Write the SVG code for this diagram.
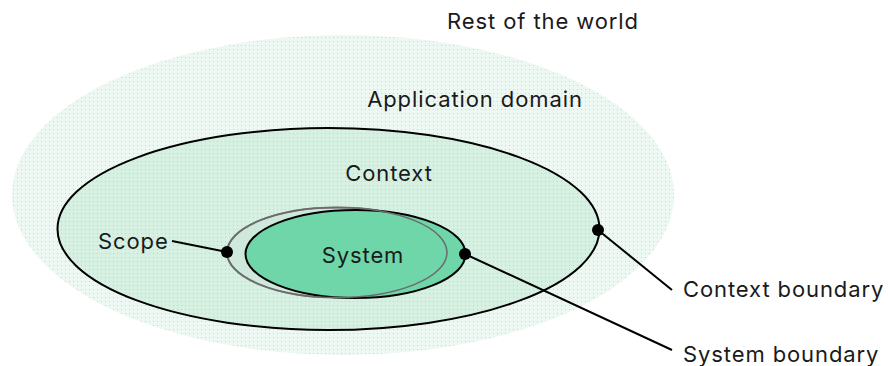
<svg xmlns="http://www.w3.org/2000/svg" width="888" height="366" viewBox="0 0 888 366">
<defs>
<pattern id="dotsOuter" width="4" height="4" patternUnits="userSpaceOnUse">
<rect width="4" height="4" fill="#eef8f2"/>
<rect x="1" y="1" width="1" height="1" fill="#c5d8cc"/>
</pattern>
<pattern id="dotsInner" width="4" height="4" patternUnits="userSpaceOnUse">
<rect width="4" height="4" fill="#d6f1e2"/>
<rect x="1" y="1" width="1" height="1" fill="#b9d6c5"/>
</pattern>
<style>
.lbl{font-family:Inter,"Liberation Sans",sans-serif;font-size:22px;letter-spacing:0.9px;fill:#1a1a1a}
.ln{stroke:#000;stroke-width:2;fill:none}
.dot{fill:#000}
</style>
</defs>
<g id="rest-of-world">
<text class="lbl" x="543" y="29" text-anchor="middle">Rest of the world</text>
</g>
<g id="application-domain">
<ellipse cx="343" cy="195" rx="331" ry="160" fill="url(#dotsOuter)"/>
<text class="lbl" x="475" y="107" text-anchor="middle">Application domain</text>
</g>
<g id="context">
<ellipse cx="328.5" cy="229" rx="271" ry="101" fill="url(#dotsInner)" stroke="#000" stroke-width="2"/>
<text class="lbl" x="389" y="181" text-anchor="middle">Context</text>
</g>
<g id="scope">
<ellipse cx="337" cy="252.5" rx="110" ry="45" fill="#cfe8dc" stroke="#7d7d7d" stroke-width="2"/>
<text class="lbl" x="98" y="249">Scope</text>
</g>
<g id="system">
<ellipse cx="355.5" cy="254" rx="110" ry="44" fill="#6fd6aa" stroke="#000" stroke-width="2"/>
<ellipse cx="337" cy="252.5" rx="110" ry="45" fill="none" stroke="#6b6b6b" stroke-width="1.5"/>
<text class="lbl" x="363" y="263" text-anchor="middle">System</text>
</g>
<g id="context-boundary">
<text class="lbl" x="683" y="297">Context boundary</text>
</g>
<g id="system-boundary">
<text class="lbl" x="683" y="362">System boundary</text>
</g>
<g id="connectors">
<path class="ln" d="M172 241 L227 252"/>
<path class="ln" d="M465 254 L672 350"/>
<path class="ln" d="M598 230 L672 290"/>
<circle class="dot" cx="227" cy="252" r="6"/>
<circle class="dot" cx="465" cy="254" r="6"/>
<circle class="dot" cx="598" cy="230" r="6"/>
</g>
</svg>
